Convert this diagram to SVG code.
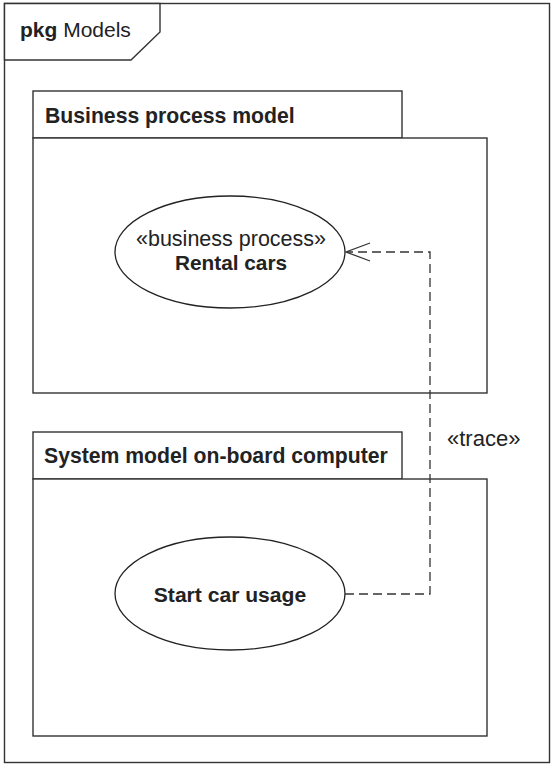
<svg xmlns="http://www.w3.org/2000/svg" width="551" height="764" viewBox="0 0 551 764">
<style>
.frame{fill:#fff;stroke:#333;stroke-width:1.4}
.uc{fill:#fff;stroke:#222;stroke-width:1.3}
.t{font-family:"Liberation Sans",Arial,sans-serif;fill:#222}
.b{font-weight:bold}
.dep{fill:none;stroke:#333;stroke-width:1.3;stroke-dasharray:9 5}
.head{fill:none;stroke:#333;stroke-width:1.3}
</style>
<rect width="551" height="764" fill="#fff"/>
<g id="frame-models">
<rect class="frame" x="4.5" y="3.5" width="545" height="759"/>
<path class="frame" d="M4.5,3.5 H160 V32 L131,60 H4.5 Z"/>
<text class="t" x="20" y="37" font-size="21"><tspan class="b">pkg</tspan> Models</text>
</g>
<g id="pkg-business">
<rect class="frame" x="33" y="91" width="369" height="47"/>
<rect class="frame" x="33" y="138" width="454" height="255"/>
<text class="t b" x="45" y="123" font-size="21.2">Business process model</text>
</g>
<g id="pkg-system">
<rect class="frame" x="33" y="432" width="369" height="47"/>
<rect class="frame" x="33" y="479" width="454" height="257"/>
<text class="t b" x="44" y="463" font-size="21.2">System model on-board computer</text>
</g>
<g id="uc-rental">
<ellipse class="uc" cx="230" cy="252" rx="115" ry="56"/>
<text class="t" x="231" y="246" font-size="21.5" text-anchor="middle">«business process»</text>
<text class="t b" x="231" y="270" font-size="20.8" text-anchor="middle">Rental cars</text>
</g>
<g id="uc-start">
<ellipse class="uc" cx="230" cy="593.5" rx="115" ry="56.5"/>
<text class="t b" x="230" y="602" font-size="21.1" text-anchor="middle">Start car usage</text>
</g>
<g id="connectors">
<path class="dep" d="M345,594 H430 V252 H347"/>
<path class="head" d="M370,243 L346,252 L370,261"/>
<text class="t" x="447" y="446" font-size="22">«trace»</text>
</g>
</svg>
